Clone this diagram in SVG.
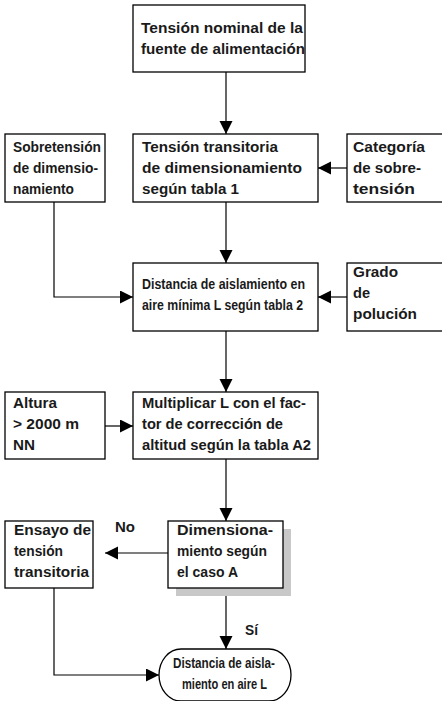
<svg xmlns="http://www.w3.org/2000/svg" width="442" height="701" viewBox="0 0 442 701">
<defs>
<style>
.box{fill:#fff;stroke:#000;stroke-width:1.3}
.t{font-family:"Liberation Sans",Arial,Helvetica,sans-serif;font-weight:bold;font-size:14.5px;fill:#1a1a1a}
.c{font-family:"Liberation Sans",Arial,Helvetica,sans-serif;font-weight:bold;font-size:15px;fill:#1a1a1a}
.ln{fill:none;stroke:#000;stroke-width:1.2}
</style>
<marker id="ah" markerUnits="userSpaceOnUse" markerWidth="14" markerHeight="14" refX="13" refY="6.5" orient="auto">
<path d="M0,0 L13,6.5 L0,13 z" fill="#000"/>
</marker>
</defs>
<rect width="442" height="701" fill="#fff"/>
<g id="connectors">
<path class="ln" d="M226,72 V134" marker-end="url(#ah)"/>
<path class="ln" d="M347,168 H318" marker-end="url(#ah)"/>
<path class="ln" d="M226,202 V263" marker-end="url(#ah)"/>
<path class="ln" d="M54,202 V297 H133" marker-end="url(#ah)"/>
<path class="ln" d="M347,297 H318" marker-end="url(#ah)"/>
<path class="ln" d="M226,331 V392" marker-end="url(#ah)"/>
<path class="ln" d="M105,426 H133" marker-end="url(#ah)"/>
<path class="ln" d="M226,459 V521" marker-end="url(#ah)"/>
<path class="ln" d="M168,553 H105" marker-end="url(#ah)"/>
<path class="ln" d="M226,596 V649" marker-end="url(#ah)"/>
<path class="ln" d="M54,588 V675 H159" marker-end="url(#ah)"/>
<text class="t" x="115" y="532" textLength="20" lengthAdjust="spacingAndGlyphs">No</text>
<text class="t" x="245" y="635" textLength="13" lengthAdjust="spacingAndGlyphs">Sí</text>
</g>
<g id="n1">
<rect class="box" x="133" y="5" width="172" height="67"/>
<text class="t" x="141" y="33" textLength="162" lengthAdjust="spacingAndGlyphs">Tensión nominal de la</text>
<text class="t" x="141" y="54" textLength="164" lengthAdjust="spacingAndGlyphs">fuente de alimentación</text>
</g>
<g id="n2">
<rect class="box" x="133" y="134" width="185" height="68"/>
<text class="t" x="142" y="152" textLength="136" lengthAdjust="spacingAndGlyphs">Tensión transitoria</text>
<text class="t" x="142" y="173" textLength="160" lengthAdjust="spacingAndGlyphs">de dimensionamiento</text>
<text class="t" x="142" y="194" textLength="97" lengthAdjust="spacingAndGlyphs">según tabla 1</text>
</g>
<g id="n3">
<rect class="box" x="5" y="134" width="100" height="68"/>
<text class="t" x="13" y="152" textLength="88" lengthAdjust="spacingAndGlyphs">Sobretensión</text>
<text class="t" x="13" y="173" textLength="85" lengthAdjust="spacingAndGlyphs">de dimensio-</text>
<text class="t" x="13" y="194" textLength="61" lengthAdjust="spacingAndGlyphs">namiento</text>
</g>
<g id="n4">
<rect class="box" x="347" y="134" width="100" height="68"/>
<text class="t" x="353" y="152" textLength="72" lengthAdjust="spacingAndGlyphs">Categoría</text>
<text class="t" x="353" y="173" textLength="68" lengthAdjust="spacingAndGlyphs">de sobre-</text>
<text class="t" x="353" y="194" textLength="62" lengthAdjust="spacingAndGlyphs">tensión</text>
</g>
<g id="n5">
<rect class="box" x="133" y="263" width="185" height="68"/>
<text class="c" x="142" y="289" textLength="163" lengthAdjust="spacingAndGlyphs">Distancia de aislamiento en</text>
<text class="c" x="142" y="310" textLength="161" lengthAdjust="spacingAndGlyphs">aire mínima L según tabla 2</text>
</g>
<g id="n6">
<rect class="box" x="347" y="263" width="100" height="68"/>
<text class="t" x="353" y="277" textLength="45" lengthAdjust="spacingAndGlyphs">Grado</text>
<text class="t" x="353" y="298" textLength="17" lengthAdjust="spacingAndGlyphs">de</text>
<text class="t" x="353" y="319" textLength="64" lengthAdjust="spacingAndGlyphs">polución</text>
</g>
<g id="n7">
<rect class="box" x="5" y="392" width="100" height="67"/>
<text class="t" x="13" y="408" textLength="44" lengthAdjust="spacingAndGlyphs">Altura</text>
<text class="t" x="13" y="429" textLength="66" lengthAdjust="spacingAndGlyphs">&gt; 2000 m</text>
<text class="t" x="13" y="450" textLength="22" lengthAdjust="spacingAndGlyphs">NN</text>
</g>
<g id="n8">
<rect class="box" x="133" y="392" width="185" height="67"/>
<text class="t" x="142" y="408" textLength="164" lengthAdjust="spacingAndGlyphs">Multiplicar L con el fac-</text>
<text class="t" x="142" y="429" textLength="141" lengthAdjust="spacingAndGlyphs">tor de corrección de</text>
<text class="t" x="142" y="450" textLength="169" lengthAdjust="spacingAndGlyphs">altitud según la tabla A2</text>
</g>
<g id="n9">
<rect x="176" y="529" width="115" height="67" fill="#c8c8c8"/>
<rect class="box" x="168" y="521" width="115" height="67"/>
<text class="t" x="177" y="535" textLength="96" lengthAdjust="spacingAndGlyphs">Dimensiona-</text>
<text class="t" x="177" y="556" textLength="90" lengthAdjust="spacingAndGlyphs">miento según</text>
<text class="t" x="177" y="577" textLength="61" lengthAdjust="spacingAndGlyphs">el caso A</text>
</g>
<g id="n10">
<rect class="box" x="5" y="521" width="88" height="67"/>
<text class="t" x="14" y="535" textLength="77" lengthAdjust="spacingAndGlyphs">Ensayo de</text>
<text class="t" x="14" y="556" textLength="49" lengthAdjust="spacingAndGlyphs">tensión</text>
<text class="t" x="14" y="577" textLength="75" lengthAdjust="spacingAndGlyphs">transitoria</text>
</g>
<g id="n11">
<rect class="box" x="159" y="649" width="132" height="52" rx="22" ry="26"/>
<text class="c" x="173" y="668" textLength="102" lengthAdjust="spacingAndGlyphs">Distancia de aisla-</text>
<text class="c" x="182" y="689" textLength="85" lengthAdjust="spacingAndGlyphs">miento en aire L</text>
</g>
</svg>
